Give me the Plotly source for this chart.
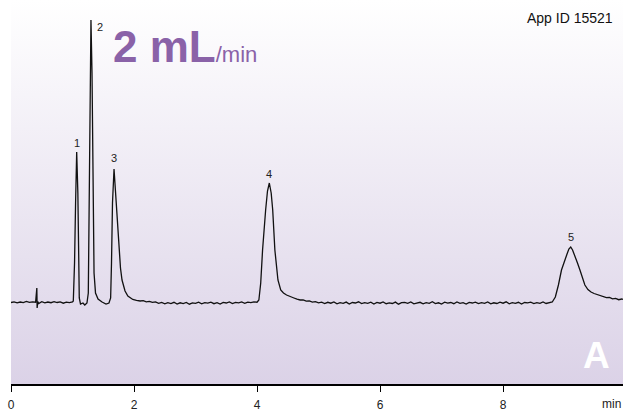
import base64
import plotly.graph_objects as go

# ---------------- data ----------------
time_min = [
    0.00, 0.05, 0.10, 0.15, 0.20, 0.25, 0.30, 0.35, 0.40, 0.41, 0.42, 0.425, 0.435, 0.45,
    0.50, 0.55, 0.60, 0.65, 0.70, 0.75, 0.80, 0.85, 0.90, 0.95, 1.00,
    # peak 1
    1.013, 1.033, 1.05, 1.068, 1.087, 1.098, 1.11, 1.13, 1.17, 1.20, 1.235,
    # peak 2
    1.257, 1.268, 1.285, 1.30, 1.317, 1.333, 1.35, 1.374, 1.415, 1.48, 1.545, 1.593,
    # peak 3
    1.62, 1.634, 1.65, 1.675, 1.69, 1.707, 1.73, 1.756, 1.78, 1.805, 1.854, 1.90, 1.98, 2.04,
    2.10, 2.15, 2.20, 2.25, 2.30, 2.35, 2.40, 2.45, 2.50, 2.55, 2.60, 2.65, 2.70, 2.75,
    2.80, 2.85, 2.90, 2.95, 3.00, 3.05, 3.10, 3.15, 3.20, 3.25, 3.30, 3.35, 3.40, 3.45,
    3.50, 3.55, 3.60, 3.65, 3.70, 3.75, 3.80, 3.85, 3.90, 3.95, 4.00,
    # peak 4
    4.03, 4.06, 4.09, 4.12, 4.14, 4.17, 4.20, 4.23, 4.255, 4.29, 4.315, 4.34, 4.385,
    4.43, 4.48, 4.54, 4.60, 4.65, 4.70, 4.75, 4.80, 4.85, 4.90, 4.95, 5.00, 5.05,
    5.10, 5.15, 5.20, 5.25, 5.30, 5.35, 5.40, 5.45, 5.50, 5.55, 5.60, 5.65, 5.70, 5.75,
    5.80, 5.85, 5.90, 5.95, 6.00, 6.05, 6.10, 6.15, 6.20, 6.25, 6.30, 6.35, 6.40, 6.45,
    6.50, 6.55, 6.60, 6.65, 6.70, 6.75, 6.80, 6.85, 6.90, 6.95, 7.00, 7.05, 7.10, 7.15,
    7.20, 7.25, 7.30, 7.35, 7.40, 7.45, 7.50, 7.55, 7.60, 7.65, 7.70, 7.75, 7.80, 7.85,
    7.90, 7.95, 8.00, 8.05, 8.10, 8.15, 8.20, 8.25, 8.30, 8.35, 8.40, 8.45, 8.50, 8.55,
    8.60, 8.65, 8.70, 8.75,
    # peak 5
    8.80, 8.85, 8.90, 8.95, 9.00, 9.04, 9.07, 9.10, 9.13, 9.17, 9.21, 9.25, 9.29, 9.33,
    9.38, 9.43, 9.48, 9.53, 9.58, 9.63, 9.68, 9.73, 9.78, 9.83, 9.88, 9.93, 9.95,
]

signal_mau = [
    0.5, 1.2, 0.2, 1.0, 0.4, 1.5, 0.6, 1.1, 0.8, 6.0, 15.0, -5.0, 1.5, -0.5,
    1.3, 0.2, 1.0, 0.3, 1.4, 0.5, 1.1, -0.2, 0.9, 0.3, 1.0,
    # peak 1
    2.0, 40.0, 100.0, 151.0, 110.0, 50.0, 5.0, -1.0, 0.0, -2.0, 0.0,
    # peak 2
    10.0, 100.0, 230.0, 283.0, 230.0, 100.0, 30.0, 10.0, 4.0, 1.0, -1.0, 0.0,
    # peak 3
    5.0, 40.0, 100.0, 134.0, 120.0, 103.0, 75.0, 50.0, 35.0, 23.0, 12.0, 7.0, 3.5, 2.6,
    2.0, 2.4, 1.2, 1.6, 0.6, 1.1, -0.3, 0.6, -0.8, 0.4, -0.5, 0.7, -1.0, 0.2,
    -0.6, 0.5, -1.2, 0.1, -0.4, 0.8, -0.9, 0.3, -0.2, 0.9, -0.7, 0.4, -1.1, 0.6,
    0.0, 1.0, -0.5, 0.7, 0.2, 1.1, -0.3, 0.9, 0.4, 1.2, 0.8,
    # peak 4
    3.0, 20.0, 53.0, 80.0, 93.0, 112.0, 120.0, 110.0, 93.0, 53.0, 36.0, 23.0, 13.0,
    10.0, 8.0, 6.2, 5.0, 3.8, 3.0, 3.2, 1.8, 2.1, 0.9, 1.4, 0.2, 0.8,
    -0.6, 0.7, -0.2, 1.0, -0.9, 0.3, -0.4, 0.9, -1.1, 0.5, 0.0, 1.2, -0.6, 0.4,
    -0.3, 0.8, -1.0, 0.6, -0.2, 1.1, -0.7, 0.2, -0.5, 0.9, -1.2, 0.3, 0.6, -0.4,
    1.0, -0.8, 0.1, 0.7, -0.9, 0.4, -0.3, 1.3, -0.6, 0.2, -1.0, 0.8, -0.2, 0.5,
    -0.7, 1.0, -0.4, 0.3, -1.1, 0.6, 0.0, 0.9, -0.6, 0.4, -0.3, 1.1, -0.9, 0.2,
    -0.5, 0.8, -0.2, 1.2, -0.8, 0.3, -0.4, 0.7, -1.0, 0.5, 0.1, 0.9, -0.6, 0.4,
    -0.3, 1.0, -0.5, 0.3,
    # peak 5
    1.0, 6.0, 18.0, 33.0, 43.0, 49.0, 54.0, 56.0, 53.0, 47.0, 40.0, 33.0, 25.0, 18.0,
    13.5, 11.0, 9.5, 8.6, 7.2, 6.8, 5.3, 5.6, 4.1, 4.6, 3.3, 4.0, 3.5,
]

peak_ids = ["1", "2", "3", "4", "5"]
peak_label_x = [1.07, 1.447, 1.675, 4.20, 9.10]
peak_label_y = [160, 276, 145, 129, 66]

x_ticks = [0, 2, 4, 6, 8]
x_tick_text = ["0", "2", "4", "6", "8"]

# ---------------- figure ----------------
FONT = "Liberation Sans, Arial, Helvetica, sans-serif"

grad_svg = (
    '<svg xmlns="http://www.w3.org/2000/svg" width="100" height="100" '
    'preserveAspectRatio="none"><defs><linearGradient id="g" x1="0" y1="0" x2="0" y2="1">'
    '<stop offset="0" stop-color="#ffffff"/><stop offset="1" stop-color="#dbd2e7"/>'
    '</linearGradient></defs><rect width="100" height="100" fill="url(#g)"/></svg>'
)
grad_src = "data:image/svg+xml;base64," + base64.b64encode(grad_svg.encode()).decode()

fig = go.Figure()
fig.add_trace(go.Scatter(
    x=time_min, y=signal_mau, mode="lines",
    line=dict(color="#111111", width=1.3),
    hoverinfo="skip", showlegend=False,
))

annotations = []
for pid, px, py in zip(peak_ids, peak_label_x, peak_label_y):
    annotations.append(dict(
        x=px, y=py, xref="x", yref="y", text=pid, showarrow=False,
        font=dict(family=FONT, size=11, color="#222222"),
        xanchor="center", yanchor="middle",
    ))

annotations += [
    dict(x=0.987, y=0.953, xref="paper", yref="paper", text="App ID 15521",
         showarrow=False, xanchor="right", yanchor="middle",
         font=dict(family=FONT, size=14, color="#111111")),
    dict(x=0.164, y=0.878, xref="paper", yref="paper",
         text="<b>2 mL</b><span style='font-size:22px'>/min</span>",
         showarrow=False, xanchor="left", yanchor="middle",
         font=dict(family=FONT, size=44, color="#8a62a8")),
    dict(x=0.956, y=0.075, xref="paper", yref="paper", text="<b>A</b>",
         showarrow=False, xanchor="center", yanchor="middle",
         font=dict(family=FONT, size=37, color="#ffffff")),
    dict(x=9.77, y=-0.052, xref="x", yref="paper", text="min",
         showarrow=False, xanchor="center", yanchor="middle",
         font=dict(family=FONT, size=12, color="#222222")),
]

fig.update_layout(
    width=623, height=411,
    margin=dict(l=11, r=0, t=0, b=27),
    paper_bgcolor="#ffffff",
    plot_bgcolor="rgba(0,0,0,0)",
    images=[dict(source=grad_src, xref="paper", yref="paper", x=0, y=1,
                 sizex=1, sizey=1, xanchor="left", yanchor="top",
                 sizing="stretch", layer="below")],
    annotations=annotations,
    xaxis=dict(
        range=[0, 9.95], showgrid=False, zeroline=False,
        showline=True, linecolor="#000000", linewidth=1.5,
        ticks="outside", ticklen=6, tickwidth=1, tickcolor="#000000",
        tickvals=x_ticks, ticktext=x_tick_text, ticklabelstandoff=3,
        tickfont=dict(family=FONT, size=12, color="#222222"),
    ),
    yaxis=dict(range=[-81, 303], visible=False, showgrid=False, zeroline=False),
)

fig.write_html(
    "out.html",
    config={"displayModeBar": False},
    post_script="document.body.style.margin='0';document.body.style.overflow='hidden';",
)
